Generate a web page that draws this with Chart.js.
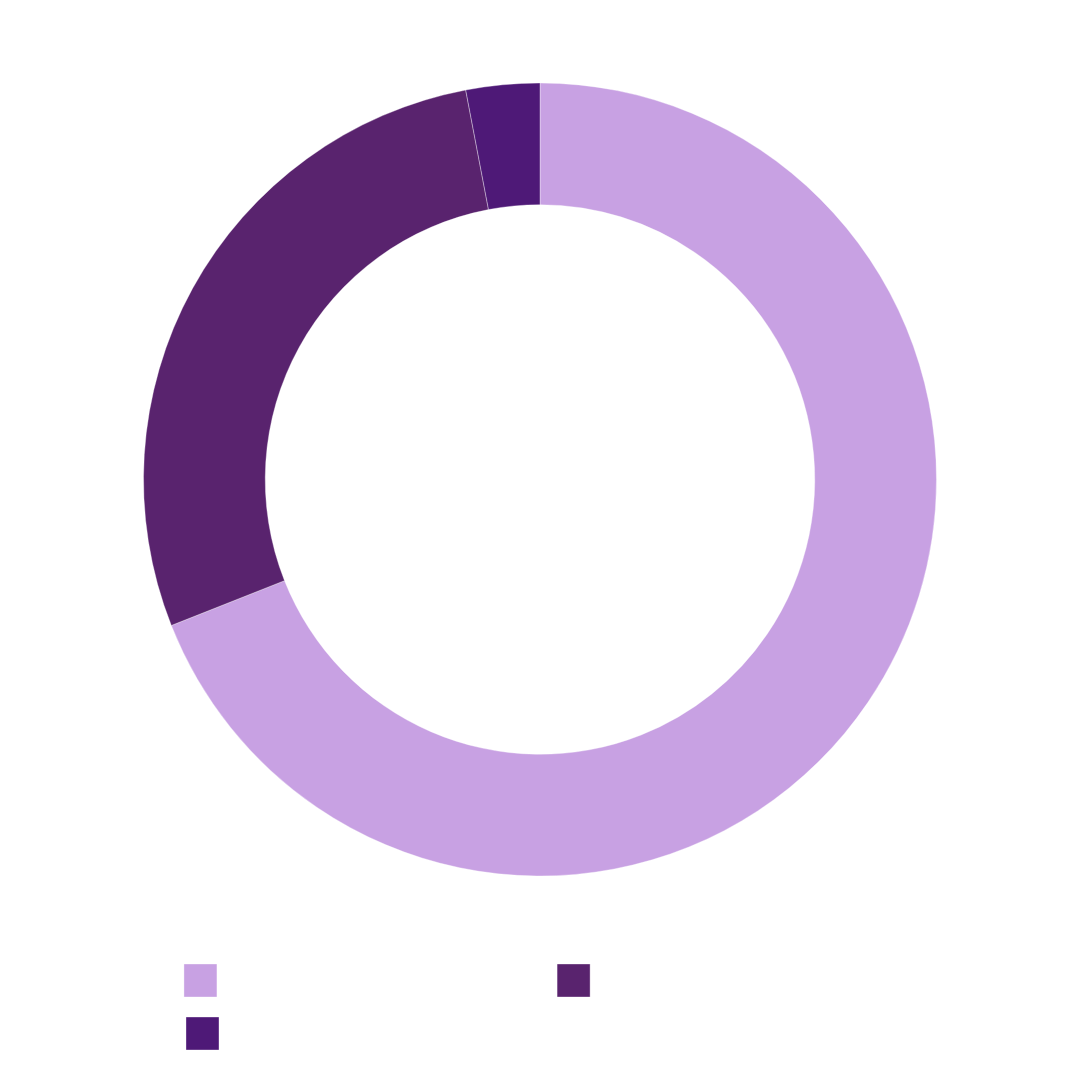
<!DOCTYPE html>
<html>
<head>
<meta charset="utf-8">
<script src="https://cdn.jsdelivr.net/npm/chart.js@4"></script>
<style>
html, body { margin: 0; padding: 0; background: #ffffff; }
#wrap { width: 1080px; height: 1080px; }
</style>
</head>
<body>
<div id="wrap"><canvas id="c" width="1080" height="1080"></canvas></div>
<script>
const categories = [
  "Primary share of the whole value, in percent",
  "Secondary shares of the whole value in %",
  "Remaining shares of the whole value, combining all of the minor groups in the data set (minor)"
];
const values = [69, 28, 3];
const colors = ["#C8A1E3", "#59236E", "#4E1977"];

new Chart(document.getElementById('c'), {
  type: 'doughnut',
  data: {
    labels: categories,
    datasets: [{
      data: values,
      backgroundColor: colors,
      borderColor: "rgba(255,255,255,0.35)",
      borderWidth: 1
    }]
  },
  options: {
    responsive: false,
    devicePixelRatio: 1,
    animation: false,
    cutout: '69.3%',
    layout: { padding: { left: 143, right: 143, top: 15, bottom: 20 } },
    plugins: {
      tooltip: { enabled: false },
      legend: {
        position: 'bottom',
        align: 'center',
        labels: {
          boxWidth: 33,
          boxHeight: 33,
          padding: 20,
          color: '#ffffff',
          font: { family: 'Liberation Sans', size: 16 }
        }
      }
    }
  }
});
</script>
</body>
</html>
